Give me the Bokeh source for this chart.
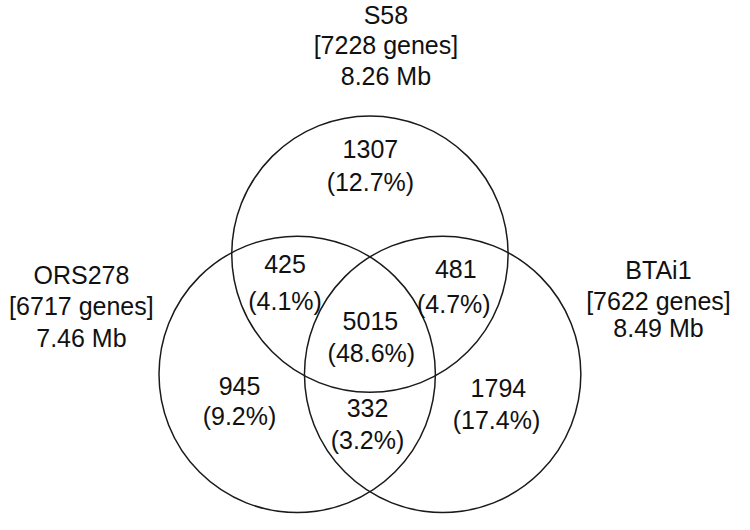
from bokeh.plotting import figure
from bokeh.models import Range1d, ColumnDataSource
from bokeh.core.properties import value
from bokeh.embed import file_html
from bokeh.resources import INLINE

# ---- data ----
set_names = ["S58", "ORS278", "BTAi1"]
set_genes = [7228, 6717, 7622]
set_sizes_mb = ["8.26", "7.46", "8.49"]

region_names = ["S58 only", "S58&ORS278", "S58&BTAi1", "all", "ORS278 only", "ORS278&BTAi1", "BTAi1 only"]
region_counts = [1307, 425, 481, 5015, 945, 332, 1794]
region_pcts = ["12.7", "4.1", "4.7", "48.6", "9.2", "3.2", "17.4"]

# ---- layout (reference pixel coordinates) ----
circle_x = [377.5, 302.5, 452.5]
circle_y = [261.5, 385.5, 385.5]
circle_r = 142.5

set_label_x = [394, 80, 675]
set_label_y = [[15, 46, 78], [283, 315, 348], [278, 310, 338]]

count_xy = [(378, 153), (290, 272), (466, 277), (378, 330), (243, 398), (375, 420), (510, 400)]
pct_xy = [(378, 187), (290, 310), (464, 313), (379, 363), (243, 428), (375, 453), (508, 433)]

W, H = 734, 514
s = H / 530.0
xspan = W / s
p = figure(width=W, height=H, output_backend="svg", toolbar_location=None,
           x_range=Range1d(375 - xspan / 2, 375 + xspan / 2), y_range=Range1d(530, 0),
           min_border=0)
p.axis.visible = False
p.grid.visible = False
p.outline_line_color = None
p.background_fill_color = "white"
p.border_fill_color = "white"

p.circle(x=circle_x, y=circle_y, radius=circle_r, fill_color=None,
         line_color="#1a1a1a", line_width=1.5)

font = value("Liberation Sans")
fs = "25px"

tx, ty, tt = [], [], []
for i in range(3):
    lines = [set_names[i], "[%d genes]" % set_genes[i], "%s Mb" % set_sizes_mb[i]]
    for j, ln in enumerate(lines):
        tx.append(set_label_x[i]); ty.append(set_label_y[i][j]); tt.append(ln)
for k in range(len(region_counts)):
    tx.append(count_xy[k][0]); ty.append(count_xy[k][1]); tt.append(str(region_counts[k]))
    tx.append(pct_xy[k][0]); ty.append(pct_xy[k][1]); tt.append("(%s%%)" % region_pcts[k])

src = ColumnDataSource(dict(x=tx, y=ty, t=tt))
p.text(x="x", y="y", text="t", source=src, text_font=font, text_font_size=fs,
       text_align="center", text_baseline="middle", text_color="#111111")

open("out.html", "w").write(file_html(p, INLINE))
